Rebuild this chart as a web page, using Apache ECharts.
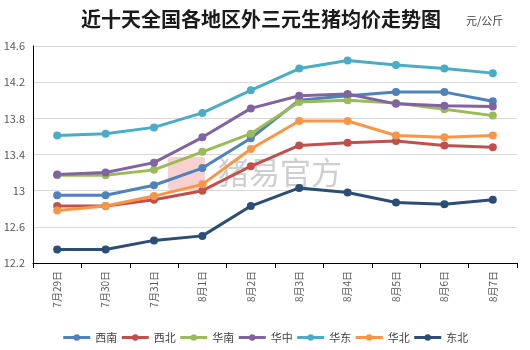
<!DOCTYPE html>
<html>
<head>
<meta charset="utf-8">
<script src="https://cdn.jsdelivr.net/npm/echarts@6/dist/echarts.min.js"></script>
<style>
  html, body { margin: 0; padding: 0; background: #fff; }
  #chart { width: 530px; height: 350px; }
</style>
</head>
<body>
<div id="chart"></div>
<script>
// dates along the x axis
var days = ['7月29日', '7月30日', '7月31日', '8月1日', '8月2日', '8月3日', '8月4日', '8月5日', '8月6日', '8月7日'];

// price per region, 元/公斤
var xinan   = [12.95, 12.95, 13.06, 13.25, 13.58, 14.00, 14.05, 14.09, 14.09, 13.99];
var xibei   = [12.83, 12.83, 12.90, 13.00, 13.27, 13.50, 13.53, 13.55, 13.50, 13.48];
var huanan  = [13.17, 13.17, 13.23, 13.43, 13.63, 13.98, 14.00, 13.97, 13.90, 13.83];
var huazhong = [13.18, 13.20, 13.31, 13.59, 13.91, 14.05, 14.07, 13.96, 13.94, 13.93];
var huadong = [13.61, 13.63, 13.70, 13.86, 14.11, 14.35, 14.44, 14.39, 14.35, 14.30];
var huabei  = [12.78, 12.83, 12.94, 13.07, 13.46, 13.77, 13.77, 13.61, 13.59, 13.61];
var dongbei = [12.35, 12.35, 12.45, 12.50, 12.83, 13.03, 12.98, 12.87, 12.85, 12.90];

var regions = ['西南', '西北', '华南', '华中', '华东', '华北', '东北'];
var values = [xinan, xibei, huanan, huazhong, huadong, huabei, dongbei];
var colors = ['#4f81bd', '#c0504d', '#9bbb59', '#8064a2', '#4bacc6', '#f79646', '#2c4d75'];

var font = '"Noto Sans CJK SC", "Noto Sans", sans-serif';

var chart = echarts.init(document.getElementById('chart'));

var series = regions.map(function (name, i) {
    return {
        name: name,
        type: 'line',
        data: values[i],
        symbol: 'circle',
        symbolSize: 8,
        showAllSymbol: true,
        lineStyle: { width: 3, color: colors[i] },
        itemStyle: { color: colors[i] },
        emphasis: { disabled: true }
    };
});

chart.setOption({
    animation: false,
    color: colors,
    textStyle: { fontFamily: font },
    title: [
        {
            text: '近十天全国各地区外三元生猪均价走势图',
            left: 76,
            top: 4,
            textStyle: { fontSize: 20, fontWeight: 'bold', color: '#1a1a1a', fontFamily: font }
        },
        {
            text: '元/公斤',
            left: 461,
            top: 10,
            textStyle: { fontSize: 11, fontWeight: 'normal', color: '#404040', fontFamily: font }
        }
    ],
    graphic: [
        {
            type: 'rect',
            left: 168,
            top: 157,
            z: 0,
            shape: { width: 37, height: 33, r: 3 },
            style: { fill: 'rgba(240,150,150,0.45)' }
        },
        {
            type: 'text',
            left: 218,
            top: 157,
            z: 0,
            style: {
                text: '猪易官方',
                fontSize: 31,
                fontFamily: font,
                fill: 'rgba(160,160,160,0.5)'
            }
        }
    ],
    legend: {
        data: regions,
        top: 327,
        left: 'center',
        itemWidth: 27,
        itemHeight: 8,
        itemGap: 3,
        lineStyle: { width: 3 },
        textStyle: { fontSize: 11, color: '#404040' }
    },
    grid: { left: 33, right: 13, top: 46, bottom: 87 },
    xAxis: {
        type: 'category',
        data: days,
        boundaryGap: true,
        axisLine: { lineStyle: { color: '#000', width: 1 } },
        axisTick: { show: true, length: 5, lineStyle: { color: '#000' } },
        axisLabel: { rotate: 90, fontSize: 10, color: '#595959', margin: 8 },
        splitLine: { show: false }
    },
    yAxis: {
        type: 'value',
        min: 12.2,
        max: 14.6,
        interval: 0.4,
        axisLine: { show: true, lineStyle: { color: '#000', width: 1 } },
        axisTick: { show: false },
        axisLabel: { fontSize: 11, color: '#595959', margin: 8 },
        splitLine: { lineStyle: { color: '#d9d9d9', width: 1 } }
    },
    series: series
});
</script>
</body>
</html>
